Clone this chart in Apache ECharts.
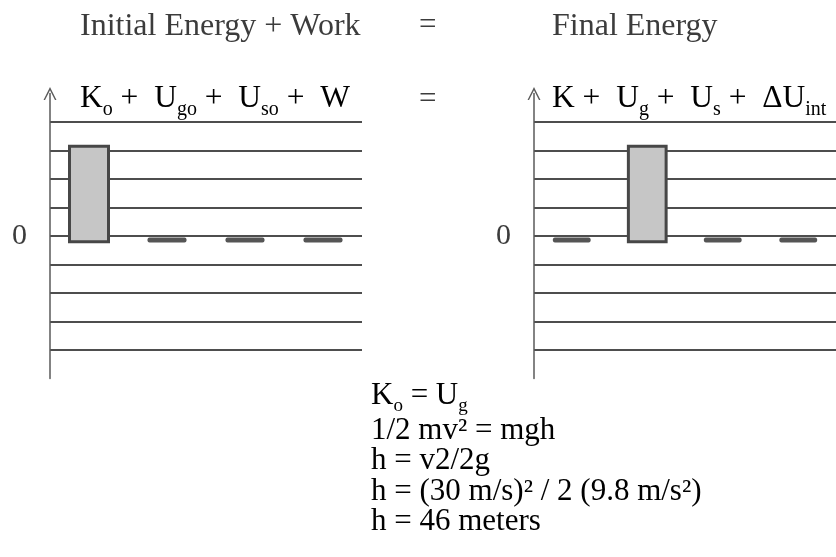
<!DOCTYPE html>
<html>
<head>
<meta charset="utf-8">
<script src="https://cdn.jsdelivr.net/npm/echarts@6/dist/echarts.min.js"></script>
<style>
html,body{margin:0;padding:0;background:#fff;}
#chart{width:836px;height:557px;}
</style>
</head>
<body>
<div id="chart"></div>
<script>
// ---- data ----
const initialCategories = ['K_o', 'U_go', 'U_so', 'W'];
const initialValues = [3.15, 0, 0, 0];
const finalCategories = ['K', 'U_g', 'U_s', 'ΔU_int'];
const finalValues = [0, 3.15, 0, 0];
const yTickLabels = ['0'];
const leftTitle = 'Initial Energy + Work';
const rightTitle = 'Final Energy';
const equationLines = [
  '{m|K}{s|o}{m| = U}{s|g}',
  '{m|1/2 mv² = mgh}',
  '{m|h = v2/2g}',
  '{m|h = (30 m/s)² / 2 (9.8 m/s²)}',
  '{m|h = 46 meters}'
];

const FONT = '"Liberation Serif", "DejaVu Serif", serif';
const INK = '#3c3c3c';
const LINE = '#4e4e4e';

function richLabel(cat) {
  const p = cat.split('_');
  return '{m|' + p[0] + '}' + (p[1] ? '{s|' + p[1] + '}' : '');
}
function header(cats) {
  return cats.map(richLabel).join('{m| +  }');
}
const richHeader = {
  m: { fontFamily: FONT, fontSize: 31.5, color: INK, lineHeight: 32 },
  s: { fontFamily: FONT, fontSize: 20, color: INK, lineHeight: 42, verticalAlign: 'bottom' }
};
const richEq = {
  m: { fontFamily: FONT, fontSize: 31, color: INK, lineHeight: 30.5 },
  s: { fontFamily: FONT, fontSize: 19, color: INK, lineHeight: 40, verticalAlign: 'bottom' }
};

function renderItem(params, api) {
  const i = api.value(0), v = api.value(1);
  const band = api.size([1, 0])[0];
  const w = band * 0.5;
  const top = api.coord([i, v]);
  if (v > 0) {
    const base = api.coord([i, -0.2]);
    return {
      type: 'rect',
      shape: { x: top[0] - w / 2, y: top[1], width: w, height: base[1] - top[1] },
      style: { fill: '#c6c6c6', stroke: '#474747', lineWidth: 3 }
    };
  }
  const d = api.coord([i, -0.14]);
  return {
    type: 'rect',
    shape: { x: top[0] - w / 2, y: d[1] - 2.5, width: w, height: 5, r: 2 },
    style: { fill: '#555' }
  };
}

const chevron = 'path://M0,12 L6,0 L12,12 L10.6,12 L6,3 L1.4,12 Z';

function makeY(gridIndex) {
  return {
    type: 'value', gridIndex, min: -5, max: 5, interval: 1,
    axisLine: { show: true, symbol: ['none', chevron], symbolSize: [14, 13], symbolOffset: [0, 0],
      lineStyle: { color: '#5a5a5a', width: 1.5 } },
    axisTick: { show: false },
    axisLabel: { formatter: v => (yTickLabels.includes(String(v)) ? String(v) : ''),
      fontFamily: FONT, fontSize: 30, color: INK, margin: 23 },
    splitLine: { show: true, showMinLine: false, showMaxLine: false,
      lineStyle: { color: LINE, width: 2 } }
  };
}
function makeX(gridIndex, cats) {
  return {
    type: 'category', gridIndex, data: cats,
    axisLine: { show: false }, axisTick: { show: false }, axisLabel: { show: false },
    splitLine: { show: false }
  };
}

const chart = echarts.init(document.getElementById('chart'));
chart.setOption({
  backgroundColor: '#fff',
  animation: false,
  grid: [
    { left: 50, top: 93.5, width: 312, height: 285 },
    { left: 534, top: 93.5, width: 312, height: 285 }
  ],
  xAxis: [makeX(0, initialCategories), makeX(1, finalCategories)],
  yAxis: [makeY(0), makeY(1)],
  series: [
    { type: 'custom', xAxisIndex: 0, yAxisIndex: 0, renderItem, clip: false,
      data: initialValues.map((v, i) => [i, v]) },
    { type: 'custom', xAxisIndex: 1, yAxisIndex: 1, renderItem, clip: false,
      data: finalValues.map((v, i) => [i, v]) }
  ],
  graphic: [
    { type: 'text', left: 80, top: 11, style: { text: leftTitle, font: '32px ' + FONT, fill: INK } },
    { type: 'text', left: 552, top: 11, style: { text: rightTitle, font: '32px ' + FONT, fill: INK } },
    { type: 'text', left: 419, top: 10, style: { text: '=', font: '31px ' + FONT, fill: INK } },
    { type: 'text', left: 419, top: 84, style: { text: '=', font: '31px ' + FONT, fill: INK } },
    { type: 'text', left: 80, top: 83, style: { text: header(initialCategories), rich: richHeader } },
    { type: 'text', left: 552, top: 83, style: { text: header(finalCategories), rich: richHeader } },
    { type: 'text', left: 371, top: 380, style: { text: equationLines.join('\n'), rich: richEq } }
  ]
});
</script>
</body>
</html>
